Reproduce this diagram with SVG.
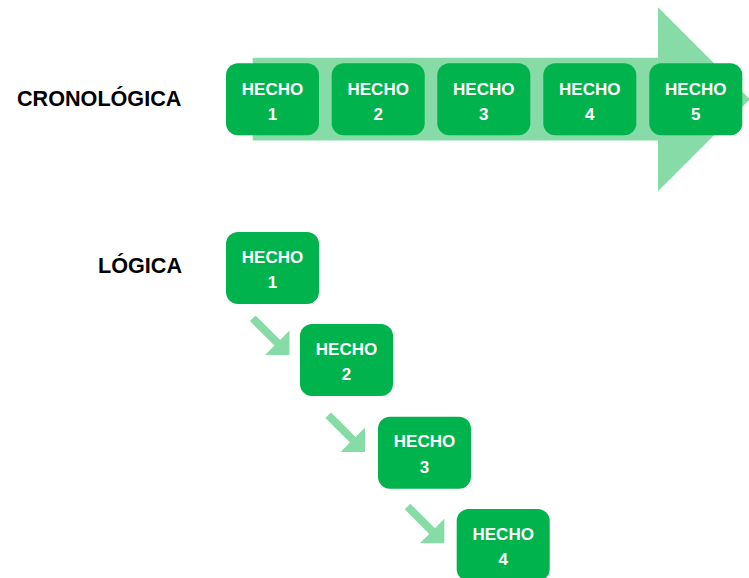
<svg xmlns="http://www.w3.org/2000/svg" width="749" height="578" viewBox="0 0 749 578">
<style>
.box{fill:#00B34C;}
.light{fill:#86DBA6;}
.bt{font-family:"Liberation Sans",Arial,sans-serif;font-weight:bold;font-size:17px;fill:#FFFFFF;text-anchor:middle;}
.lbl{font-family:"Liberation Sans",Arial,sans-serif;font-weight:bold;font-size:21.6px;fill:#000000;}
</style>
<defs>
<path id="sa" d="M-52,-4 L-17.3,-4 L-17.3,-17.3 L0,0 L-17.3,17.3 L-17.3,4 L-52,4 Z"/>
</defs>
<rect width="749" height="578" fill="#FFFFFF"/>
<text class="lbl" x="17" y="105.7">CRONOLÓGICA</text>
<text class="lbl" x="182" y="273.3" text-anchor="end">LÓGICA</text>
<g id="connectors">
<polygon id="big-arrow" class="light" points="252.7,57.7 658,57.7 658,7.3 750,99.3 658,191.3 658,140.5 252.7,140.5"/>
<use href="#sa" class="light" transform="translate(289.5,355) rotate(45)"/>
<use href="#sa" class="light" transform="translate(365,452) rotate(45)"/>
<use href="#sa" class="light" transform="translate(444.3,543.3) rotate(45)"/>
</g>
<g id="c1"><rect class="box" x="226" y="63.3" width="93" height="72" rx="12"/><text class="bt" x="272.5" y="95">HECHO</text><text class="bt" x="272.5" y="120">1</text></g>
<g id="c2"><rect class="box" x="331.7" y="63.3" width="93" height="72" rx="12"/><text class="bt" x="378.2" y="95">HECHO</text><text class="bt" x="378.2" y="120">2</text></g>
<g id="c3"><rect class="box" x="437.3" y="63.3" width="93" height="72" rx="12"/><text class="bt" x="483.8" y="95">HECHO</text><text class="bt" x="483.8" y="120">3</text></g>
<g id="c4"><rect class="box" x="543.3" y="63.3" width="93" height="72" rx="12"/><text class="bt" x="589.8" y="95">HECHO</text><text class="bt" x="589.8" y="120">4</text></g>
<g id="c5"><rect class="box" x="649.3" y="63.3" width="93" height="72" rx="12"/><text class="bt" x="695.8" y="95">HECHO</text><text class="bt" x="695.8" y="120">5</text></g>
<g id="l1"><rect class="box" x="226" y="232" width="93" height="72" rx="12"/><text class="bt" x="272.5" y="262.5">HECHO</text><text class="bt" x="272.5" y="288">1</text></g>
<g id="l2"><rect class="box" x="300" y="324" width="93" height="72" rx="12"/><text class="bt" x="346.5" y="354.5">HECHO</text><text class="bt" x="346.5" y="380">2</text></g>
<g id="l3"><rect class="box" x="378" y="416.7" width="93" height="72" rx="12"/><text class="bt" x="424.5" y="447.2">HECHO</text><text class="bt" x="424.5" y="472.7">3</text></g>
<g id="l4"><rect class="box" x="456.7" y="509" width="93" height="72" rx="12"/><text class="bt" x="503.2" y="539.5">HECHO</text><text class="bt" x="503.2" y="565">4</text></g>
</svg>
